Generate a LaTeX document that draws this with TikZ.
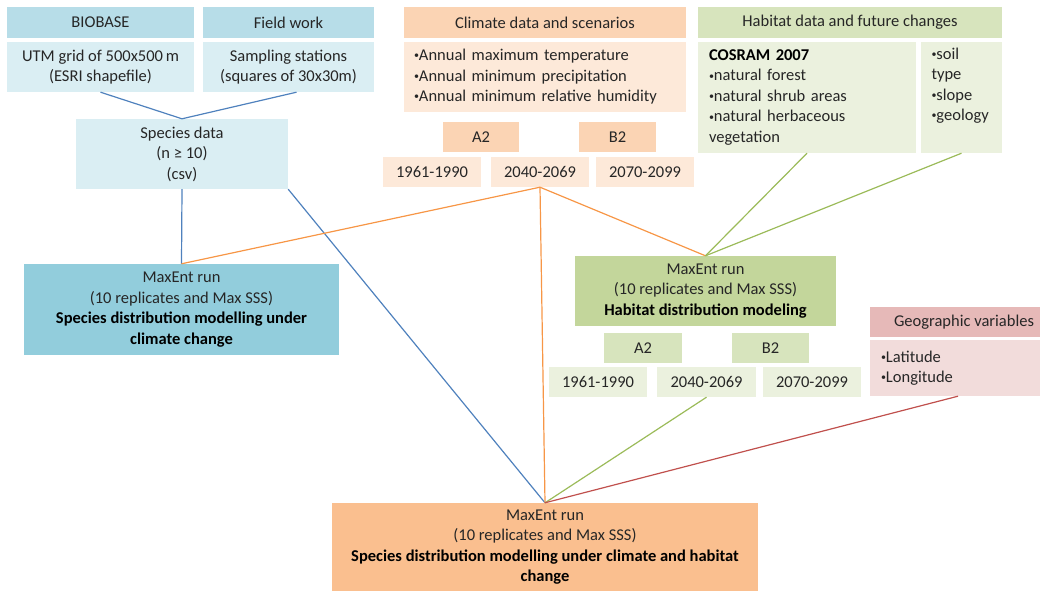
\documentclass[tikz,border=0pt]{standalone}
\usepackage{fontspec}
\setmainfont{Carlito}
\usetikzlibrary{calc}
\definecolor{bluehd}{HTML}{B7DDE8}
\definecolor{bluebd}{HTML}{DAEEF3}
\definecolor{bluemx}{HTML}{92CDDC}
\definecolor{orghd}{HTML}{FBD4B4}
\definecolor{orgbd}{HTML}{FDE9D9}
\definecolor{orgmx}{HTML}{FABF8F}
\definecolor{grnhd}{HTML}{D7E4BD}
\definecolor{grnbd}{HTML}{EBF1DE}
\definecolor{grnmx}{HTML}{C3D69B}
\definecolor{redhd}{HTML}{E6B9B8}
\definecolor{redbd}{HTML}{F2DCDB}
\definecolor{lnblue}{HTML}{4F81BD}
\definecolor{lnorg}{HTML}{F79646}
\definecolor{lngrn}{HTML}{9BBB59}
\definecolor{lnred}{HTML}{C0504D}
\definecolor{txt}{HTML}{262626}
\newcommand\bul{\raisebox{0.12em}{\fontsize{10}{10}\selectfont •}}
\newcommand\bx[7]{\node[#6, minimum width={#4-#2}, minimum height={#5-#3}] (#1) at ({(#2+#4)/2},{(#3+#5)/2}) {#7};}
\tikzset{
  box/.style={inner sep=0pt, align=center, text=txt, font=\fontsize{16.5}{20.5}\selectfont},
  conn/.style={line width=1.2pt},
}
\begin{document}
\begin{tikzpicture}[x=1pt,y=-1pt]
\useasboundingbox (0,0) rectangle (1041,591);
% left column
\bx{biobase}{7}{7}{194}{38}{box, fill=bluehd}{BIOBASE}
\bx{utm}{7}{42}{194}{92}{box, fill=bluebd}{UTM grid of 500x500\,m\\(ESRI shapefile)}
\bx{fieldwork}{203}{7}{374}{38}{box, fill=bluehd}{Field work}
\bx{samp}{203}{42}{374}{92}{box, fill=bluebd}{Sampling stations\\(squares of 30x30m)}
\bx{species}{76}{119}{288}{189}{box, fill=bluebd}{Species data\\(n ≥ 10)\\(csv)}
\bx{maxA}{24}{264}{339}{355}{box, fill=bluemx}{MaxEnt run\\(10 replicates and Max SSS)\\\textbf{\color{black}Species distribution modelling under}\\\textbf{\color{black}climate change}}
% climate
\bx{climhd}{404}{7}{686}{38}{box, fill=orghd}{Climate data and scenarios}
\bx{climbd}{404}{42}{686}{112}{box, fill=orgbd, align=left, text width=262pt}{\bul Annual maximum temperature\\\bul Annual minimum precipitation\\\bul Annual minimum relative humidity}
\bx{oA}{443}{122}{519}{152}{box, fill=orghd}{A2}
\bx{oB}{579}{122}{656}{152}{box, fill=orghd}{B2}
\bx{oy1}{383}{157}{481}{187}{box, fill=orgbd}{1961-1990}
\bx{oy2}{491}{157}{589}{187}{box, fill=orgbd}{2040-2069}
\bx{oy3}{596}{157}{694}{187}{box, fill=orgbd}{2070-2099}
% habitat
\bx{habhd}{698}{7}{1002}{38}{box, fill=grnhd}{Habitat data and future changes}
\bx{cosram}{698}{42}{916}{153}{box, fill=grnbd, align=left, text width=196pt}{\textbf{\color{black}COSRAM 2007}\\\bul natural forest\\\bul natural shrub areas\\\bul natural herbaceous\\vegetation}
\bx{soil}{921}{42}{1002}{153}{box, fill=grnbd, align=left, text width=60pt}{\bul soil\\type\\\bul slope\\\bul geology\\\strut}
\bx{habmax}{575}{256}{836}{326}{box, fill=grnmx}{MaxEnt run\\(10 replicates and Max SSS)\\\textbf{\color{black}Habitat distribution modeling}}
\bx{gA}{604}{333}{682}{363}{box, fill=grnhd}{A2}
\bx{gB}{732}{333}{809}{363}{box, fill=grnhd}{B2}
\bx{gy1}{549}{367}{647}{397}{box, fill=grnbd}{1961-1990}
\bx{gy2}{657}{367}{756}{397}{box, fill=grnbd}{2040-2069}
\bx{gy3}{763}{367}{861}{397}{box, fill=grnbd}{2070-2099}
% geographic
\bx{geohd}{870}{307}{1040}{337}{box, fill=redhd}{\hspace*{18pt}Geographic variables}
\bx{geobd}{870}{340}{1040}{396}{box, fill=redbd, align=left, text width=148pt}{\bul Latitude\\\bul Longitude}
% bottom
\bx{final}{332}{503}{758}{591}{box, fill=orgmx}{MaxEnt run\\(10 replicates and Max SSS)\\\textbf{\color{black}Species distribution modelling under climate and habitat}\\\textbf{\color{black}change}}
% connectors
\draw[conn, lnblue] (utm.south) -- (species.north);
\draw[conn, lnblue] ($(samp.south)+(8,0)$) -- (species.north);
\draw[conn, lnblue] (species.south) -- (maxA.north);
\draw[conn, lnblue] (species.south east) -- (final.north);
\draw[conn, lnorg] (oy2.south) -- (maxA.north);
\draw[conn, lnorg] (oy2.south) -- (habmax.north);
\draw[conn, lnorg] (oy2.south) -- (final.north);
\draw[conn, lngrn] (cosram.south) -- (habmax.north);
\draw[conn, lngrn] (soil.south) -- (habmax.north);
\draw[conn, lngrn] (gy2.south) -- (final.north);
\draw[conn, lnred] ($(geobd.south)+(3,0)$) -- (final.north);
\end{tikzpicture}
\end{document}
